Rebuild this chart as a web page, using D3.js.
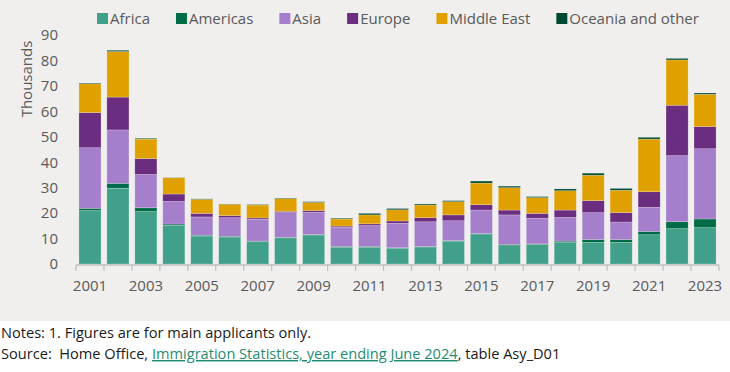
<!DOCTYPE html>
<html>
<head>
<meta charset="utf-8">
<script src="https://cdn.jsdelivr.net/npm/d3@7"></script>
<style>
  body { margin: 0; background: #fff; }
  svg { display: block; }
  text { font-family: "Open Sans", sans-serif; }
</style>
</head>
<body>
<div id="chart"></div>
<script>
// values in thousands
const years = d3.range(2001, 2024);
const africa     = [21.0, 29.8, 20.6, 15.2, 11.0, 10.6, 8.8, 10.3, 11.4, 6.6, 6.6, 6.2, 6.7, 9.0, 11.8, 7.2, 7.7, 8.6, 8.5, 8.5, 11.5, 13.9, 14.3];
const americas   = [0.9, 1.9, 1.5, 0.5, 0.3, 0.3, 0.2, 0.2, 0.2, 0.3, 0.3, 0.2, 0.2, 0.2, 0.2, 0.5, 0.2, 0.4, 1.1, 1.1, 1.3, 2.7, 3.4];
const asia       = [23.8, 21.0, 13.1, 8.9, 7.2, 7.3, 8.6, 9.7, 8.7, 7.5, 8.2, 9.6, 9.7, 7.8, 9.2, 11.6, 10.1, 9.3, 10.6, 6.9, 9.5, 26.0, 27.6];
const europe     = [13.8, 12.9, 6.2, 2.9, 1.4, 0.8, 0.5, 0.5, 0.7, 0.5, 0.7, 0.9, 1.6, 2.3, 2.1, 1.9, 1.9, 2.9, 4.7, 3.7, 6.1, 19.8, 8.7];
const middleEast = [11.3, 17.9, 7.7, 6.4, 5.5, 4.5, 5.1, 5.0, 3.2, 2.8, 3.5, 4.4, 5.0, 5.2, 8.5, 8.8, 6.2, 7.6, 10.0, 8.8, 20.7, 17.8, 12.7];
const oceania    = [0.3, 0.5, 0.3, 0.1, 0.2, 0.1, 0.2, 0.2, 0.3, 0.3, 0.6, 0.5, 0.4, 0.4, 0.8, 0.6, 0.4, 0.7, 0.8, 0.7, 0.7, 0.6, 0.5];

const seriesNames = ['Africa', 'Americas', 'Asia', 'Europe', 'Middle East', 'Oceania and other'];
const seriesValues = [africa, americas, asia, europe, middleEast, oceania];
const colors = ['#41a089', '#006b47', '#a57fcb', '#6a2d7f', '#e0a100', '#004a32'];
const yTicks = [0, 10, 20, 30, 40, 50, 60, 70, 80, 90];
const xLabels = years.filter(y => y % 2 === 1);

const width = 730, height = 372;
const svg = d3.select('#chart').append('svg')
    .attr('width', width)
    .attr('height', height);

// grey panel
svg.append('rect')
    .attr('x', 0).attr('y', 0)
    .attr('width', width).attr('height', 321)
    .attr('fill', '#f0efee');

const x = d3.scaleBand()
    .domain(years)
    .range([76, 719])
    .paddingInner(0.21)
    .paddingOuter(0.105);

const y = d3.scaleLinear()
    .domain([0, 90])
    .range([264, 35]);

const color = d3.scaleOrdinal().domain(seriesNames).range(colors);

// table for the stack
const table = years.map((yr, i) => {
    const row = { year: yr };
    seriesNames.forEach((s, j) => row[s] = seriesValues[j][i]);
    return row;
});
const stacked = d3.stack().keys(seriesNames)(table);

svg.append('g')
    .selectAll('g')
    .data(stacked)
    .enter()
    .append('g')
    .attr('fill', d => color(d.key))
    .selectAll('rect')
    .data(d => d)
    .enter()
    .append('rect')
    .attr('x', d => x(d.data.year))
    .attr('y', d => y(d[1]))
    .attr('width', x.bandwidth())
    .attr('height', d => y(d[0]) - y(d[1]))
    .attr('stroke', '#ffffff')
    .attr('stroke-opacity', 0.35)
    .attr('stroke-width', 0.6);

// y axis, labels only
const yAxis = svg.append('g')
    .attr('transform', 'translate(59,0)')
    .call(d3.axisLeft(y).tickValues(yTicks).tickSize(0).tickPadding(1));
yAxis.select('.domain').remove();
yAxis.selectAll('text')
    .attr('font-size', '15px')
    .attr('fill', '#595959')
    .style('font-family', '"Open Sans", sans-serif');

svg.append('text')
    .attr('transform', 'translate(32,79) rotate(-90)')
    .attr('text-anchor', 'middle')
    .attr('font-size', '15px')
    .attr('fill', '#595959')
    .text('Thousands');

// x axis: baseline with ticks at band edges, labels every other year
const step = x.step();
const x0 = x.range()[0];
const xg = svg.append('g');
xg.append('line')
    .attr('x1', x0).attr('x2', x.range()[1])
    .attr('y1', 265).attr('y2', 265)
    .attr('stroke', '#bfbfbf')
    .attr('stroke-width', 1.5);
xg.selectAll('line.tick')
    .data(d3.range(years.length + 1))
    .enter()
    .append('line')
    .attr('class', 'tick')
    .attr('x1', i => x0 + i * step)
    .attr('x2', i => x0 + i * step)
    .attr('y1', 265).attr('y2', 271)
    .attr('stroke', '#bfbfbf')
    .attr('stroke-width', 1.2);
xg.selectAll('text')
    .data(xLabels)
    .enter()
    .append('text')
    .attr('x', d => x(d) + x.bandwidth() / 2)
    .attr('y', 291)
    .attr('text-anchor', 'middle')
    .attr('font-size', '15px')
    .attr('fill', '#595959')
    .text(d => d);

// legend
const legend = svg.append('g');
let lx = 97;
seriesNames.forEach((name, i) => {
    legend.append('rect')
        .attr('x', lx).attr('y', 13)
        .attr('width', 11).attr('height', 11)
        .attr('fill', colors[i]);
    const t = legend.append('text')
        .attr('x', lx + 13)
        .attr('y', 24)
        .attr('font-size', '15px')
        .attr('fill', '#595959')
        .text(name);
    lx = lx + 13 + t.node().getComputedTextLength() + 26;
});

// notes
svg.append('text')
    .attr('x', 1).attr('y', 338)
    .attr('font-size', '14.6px')
    .attr('fill', '#1a1a1a')
    .text('Notes: 1. Figures are for main applicants only.');

const src = svg.append('text')
    .attr('x', 1).attr('y', 359)
    .attr('font-size', '14.6px')
    .attr('fill', '#1a1a1a');
src.append('tspan').text('Source:\u00a0 Home Office, ');
src.append('tspan')
    .attr('fill', '#1f8c72')
    .attr('text-decoration', 'underline')
    .text('Immigration Statistics, year ending June 2024');
src.append('tspan').text(', table Asy_D01');
</script>
</body>
</html>
